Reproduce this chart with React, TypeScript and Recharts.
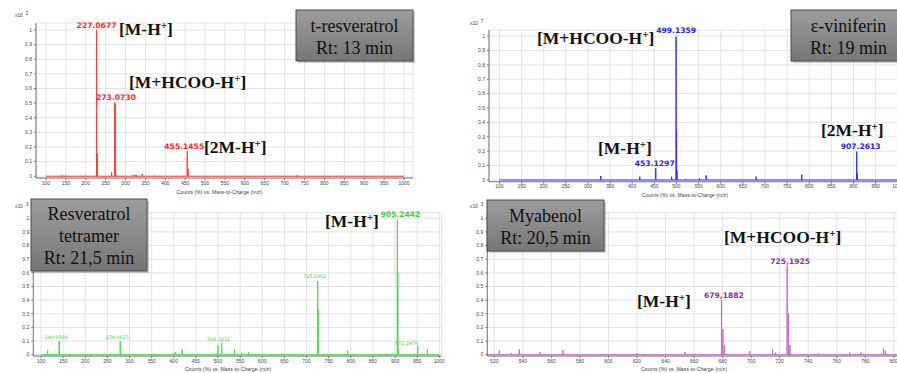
import React from 'react';
import { ComposedChart, Line, XAxis, YAxis, CartesianGrid, ReferenceDot } from 'recharts';

type Peak = [number, number];

// m/z and relative intensity ticks
const fullMzTicks = [100, 150, 200, 250, 300, 350, 400, 450, 500, 550, 600, 650, 700, 750, 800, 850, 900, 950, 1000];
const zoomMzTicks = [520, 540, 560, 580, 600, 620, 640, 660, 680, 700, 720, 740, 760, 780, 800];
const intensityTicks = [0, 0.1, 0.2, 0.3, 0.4, 0.5, 0.6, 0.7, 0.8, 0.9, 1];

// t-resveratrol, Rt 13 min (x10^2)
const resveratrolPeaks: Peak[] = [
  [141, 0.005], [150, 0.004], [188, 0.003], [199, 0.004], [227.0677, 1.0], [229.1, 0.155],
  [265, 0.027], [273.073, 0.505], [274.1, 0.49], [276, 0.01], [318, 0.008], [324, 0.01],
  [328, 0.008], [342, 0.015], [373, 0.004], [455.1455, 0.17], [457.2, 0.05], [683, 0.003], [731, 0.005],
];
const resveratrolTags = [227.0677, 273.073, 455.1455];

// ε-viniferin, Rt 19 min (x10^7)
const viniferinPeaks: Peak[] = [
  [329, 0.028], [417, 0.023], [453.1297, 0.081], [489, 0.023], [499.1359, 0.995], [500.1, 0.336],
  [501.1, 0.065], [521, 0.006], [552, 0.012], [567, 0.032], [680, 0.023], [783, 0.037],
  [907.2613, 0.197], [908.3, 0.046],
];
const viniferinTags = [499.1359, 453.1297, 907.2613];

// resveratrol tetramer, Rt 21,5 min (x10^3)
const tetramerPeaks: Peak[] = [
  [115, 0.034], [140.9509, 0.1], [279.0615, 0.1], [403, 0.02], [419, 0.04], [500, 0.07],
  [508.3212, 0.083], [537, 0.04], [553, 0.015], [569, 0.02], [725.1962, 0.54], [726.2, 0.33],
  [793, 0.03], [905.2442, 0.99], [906.25, 0.6], [907.25, 0.04], [951.2476, 0.064], [973, 0.04], [990, 0.005],
];
const tetramerTags = [140.9509, 279.0615, 508.3212, 725.1962, 905.2442, 951.2476];

// myabenol, Rt 20,5 min (x10^3)
const myabenolPeaks: Peak[] = [
  [523.5, 0.03], [532, 0.01], [537.5, 0.04], [552, 0.02], [568, 0.035], [620, 0.01], [653.7, 0.02],
  [679.1882, 0.4], [680.19, 0.186], [681.19, 0.068], [699, 0.025], [715, 0.04], [717, 0.015],
  [725.1925, 0.65], [726.19, 0.3], [727.19, 0.07], [747, 0.01], [769, 0.015], [777, 0.017],
  [792.7, 0.046], [794, 0.03],
];
const myabenolTags = [679.1882, 725.1925];

const SERIF = "'Liberation Serif', 'Times New Roman', serif";
const TAG_FONT = "'DejaVu Sans', Verdana, sans-serif";
const AXIS_FONT = "'Liberation Sans', Arial, sans-serif";

// stick spectrum: every peak goes baseline -> top -> baseline
const buildTrace = (peaks: Peak[], span: [number, number]) => {
  const pts = [{ mz: span[0], v: 0 }];
  [...peaks].sort((a, b) => a[0] - b[0]).forEach(([mz, v]) => {
    pts.push({ mz, v: 0 }, { mz, v }, { mz, v: 0 });
  });
  pts.push({ mz: span[1], v: 0 });
  return pts;
};

interface TagStyle { dx: number; dy: number; size: number; bold: boolean }

interface PanelProps {
  left: number;
  top: number;
  width: number;
  height: number;
  marginTop: number;
  marginRight: number;
  yAxisWidth: number;
  xAxisHeight: number;
  xDomain: [number, number];
  yDomain: [number, number];
  xTicks: number[];
  span: [number, number];
  peaks: Peak[];
  tags: number[];
  tagStyles: TagStyle[];
  decimal: string;
  color: string;
  tagColor: string;
}

const SpectrumPanel: React.FC<PanelProps> = ({
  left, top, width, height, marginTop, marginRight, yAxisWidth, xAxisHeight,
  xDomain, yDomain, xTicks, span, peaks, tags, tagStyles, decimal, color, tagColor,
}) => {
  const data = buildTrace(peaks, span);
  return (
    <div style={{ position: 'absolute', left, top, width, height }}>
      <ComposedChart
        width={width}
        height={height}
        data={data}
        margin={{ top: marginTop, right: marginRight, bottom: 0, left: 0 }}
      >
        <CartesianGrid stroke="#e3e3e3" strokeWidth={1} />
        <XAxis
          dataKey="mz"
          type="number"
          domain={xDomain}
          ticks={xTicks}
          interval={0}
          allowDataOverflow
          height={xAxisHeight}
          tickSize={2}
          tickMargin={1}
          stroke="#777"
          tick={{ fontSize: 5, fill: '#444', fontFamily: AXIS_FONT }}
        />
        <YAxis
          type="number"
          domain={yDomain}
          ticks={intensityTicks}
          interval={0}
          allowDataOverflow
          width={yAxisWidth}
          tickSize={2}
          tickMargin={2}
          stroke="#777"
          tick={{ fontSize: 5, fill: '#444', fontFamily: AXIS_FONT }}
          tickFormatter={(v: number) => (v === 0 ? '0' : v === 1 ? '1' : v.toFixed(1))}
        />
        <Line
          dataKey="v"
          type="linear"
          stroke={color}
          strokeWidth={1}
          dot={false}
          activeDot={false}
          isAnimationActive={false}
        />
        {tags.map((mz, i) => {
          const peak = peaks.find((p) => p[0] === mz);
          const st = tagStyles[i];
          const txt = mz.toFixed(4).replace('.', decimal);
          return (
            <ReferenceDot
              key={mz}
              x={mz}
              y={peak ? peak[1] : 0}
              r={0}
              ifOverflow="visible"
              shape={(p: any) => (
                <text
                  x={p.cx + st.dx}
                  y={p.cy + st.dy}
                  textAnchor="middle"
                  fontFamily={TAG_FONT}
                  fontSize={st.size}
                  fontWeight={st.bold ? 'bold' : 'normal'}
                  fill={tagColor}
                >
                  {txt}
                </text>
              )}
            />
          );
        })}
      </ComposedChart>
    </div>
  );
};

// ion annotation with a superscript charge
const Ion: React.FC<{ x: number; y: number; pre: string }> = ({ x, y, pre }) => (
  <text x={x} y={y} fontFamily={SERIF} fontWeight="bold" fontSize={17.5} fill="#111">
    {pre}
    <tspan dy={-6} fontSize={11}>+</tspan>
    <tspan dy={6}>]</tspan>
  </text>
);

const NameBox: React.FC<{ x: number; y: number; w: number; h: number; lines: string[]; baselines: number[] }> = ({
  x, y, w, h, lines, baselines,
}) => (
  <g>
    <rect x={x + 2} y={y + 2} width={w} height={h} fill="rgba(0,0,0,0.2)" />
    <rect x={x} y={y} width={w} height={h} fill="url(#boxFill)" stroke="#4a4a4a" strokeWidth={1} />
    {lines.map((s, i) => (
      <text key={s} x={x + w / 2} y={baselines[i]} textAnchor="middle" fontFamily={SERIF} fontSize={18} fill="#111">
        {s}
      </text>
    ))}
  </g>
);

const AxisTitle: React.FC<{ x: number; y: number }> = ({ x, y }) => (
  <text x={x} y={y} textAnchor="middle" fontFamily={AXIS_FONT} fontSize={5.2} fill="#444">
    Counts (%) vs. Mass-to-Charge (m/z)
  </text>
);

const Scale: React.FC<{ x: number; y: number; exp: string }> = ({ x, y, exp }) => (
  <text x={x} y={y} fontFamily={AXIS_FONT} fontSize={4.8} fill="#444">
    x10
    <tspan dx={3} dy={-2}>{exp}</tspan>
  </text>
);

const big = (dx: number, dy: number): TagStyle => ({ dx, dy, size: 7.6, bold: true });
const small = (dx: number, dy: number): TagStyle => ({ dx, dy, size: 4.8, bold: false });

export default function App() {
  return (
    <div style={{ position: 'absolute', left: 0, top: 0, width: 897, height: 373, overflow: 'hidden', background: '#fff' }}>
      <SpectrumPanel
        left={0} top={0} width={450} height={200}
        marginTop={23} marginRight={37} yAxisWidth={36} xAxisHeight={22}
        xDomain={[74.9, 1022.6]} yDomain={[-0.012, 1.048]} xTicks={fullMzTicks} span={[100, 1000]}
        peaks={resveratrolPeaks} tags={resveratrolTags}
        tagStyles={[big(0, -2), big(1, -2), big(-3, -2)]}
        decimal="." color="#ff3b3b" tagColor="#ff1f1f"
      />
      <SpectrumPanel
        left={450} top={0} width={455} height={200}
        marginTop={30} marginRight={0} yAxisWidth={39} xAxisHeight={18.3}
        xDomain={[76.3, 1016.4]} yDomain={[-0.012, 1.042]} xTicks={fullMzTicks} span={[100, 1016]}
        peaks={viniferinPeaks} tags={viniferinTags}
        tagStyles={[big(0, -4), big(-1, -2), big(4, -3)]}
        decimal="." color="#2e2eff" tagColor="#2424e6"
      />
      <SpectrumPanel
        left={0} top={190} width={450} height={183}
        marginTop={22.7} marginRight={8.3} yAxisWidth={33.3} xAxisHeight={17}
        xDomain={[82.6, 1005.4]} yDomain={[-0.0095, 1.041]} xTicks={fullMzTicks} span={[100, 1000]}
        peaks={tetramerPeaks} tags={tetramerTags}
        tagStyles={[small(-3, -2.5), small(-3, -2.5), small(-3, -2), small(-3, -3), big(3, -3), small(-11, -1)]}
        decimal="." color="#48dc48" tagColor="#3fd03f"
      />
      <SpectrumPanel
        left={450} top={190} width={449} height={183}
        marginTop={22.7} marginRight={0} yAxisWidth={37.3} xAxisHeight={17}
        xDomain={[515.1, 803.6]} yDomain={[-0.0095, 1.041]} xTicks={zoomMzTicks} span={[515.1, 803.6]}
        peaks={myabenolPeaks} tags={myabenolTags}
        tagStyles={[big(2.5, -2), big(3, -2)]}
        decimal="," color="#c46acc" tagColor="#9a2aa0"
      />

      <svg width={897} height={373} style={{ position: 'absolute', left: 0, top: 0, pointerEvents: 'none' }}>
        <defs>
          <linearGradient id="boxFill" x1="0" y1="0" x2="0" y2="1">
            <stop offset="0" stopColor="#9d9d9d" />
            <stop offset="1" stopColor="#767676" />
          </linearGradient>
        </defs>

        <Scale x={15} y={17} exp="2" />
        <Scale x={470} y={25} exp="7" />
        <Scale x={15} y={208} exp="3" />
        <Scale x={470} y={208} exp="3" />

        <AxisTitle x={219.5} y={194} />
        <AxisTitle x={685} y={197} />
        <AxisTitle x={228} y={371} />
        <AxisTitle x={684} y={371} />

        <NameBox x={296} y={10} w={117} h={51} lines={['t-resveratrol', 'Rt: 13 min']} baselines={[32, 54]} />
        <NameBox x={791} y={10} w={115} h={51} lines={['ε-viniferin', 'Rt: 19 min']} baselines={[32, 54]} />
        <NameBox x={31} y={199} w={116} h={72} lines={['Resveratrol', 'tetramer', 'Rt: 21,5 min']} baselines={[220, 242, 264]} />
        <NameBox x={487} y={200} w={117} h={51} lines={['Myabenol', 'Rt: 20,5 min']} baselines={[222, 244]} />

        <Ion x={119} y={35} pre="[M-H" />
        <Ion x={129} y={88} pre="[M+HCOO-H" />
        <Ion x={204} y={153} pre="[2M-H" />

        <Ion x={537} y={44} pre="[M+HCOO-H" />
        <Ion x={598} y={154} pre="[M-H" />
        <Ion x={821} y={136} pre="[2M-H" />

        <Ion x={325} y={227} pre="[M-H" />

        <Ion x={724} y={243} pre="[M+HCOO-H" />
        <Ion x={637} y={307} pre="[M-H" />
      </svg>
    </div>
  );
}
